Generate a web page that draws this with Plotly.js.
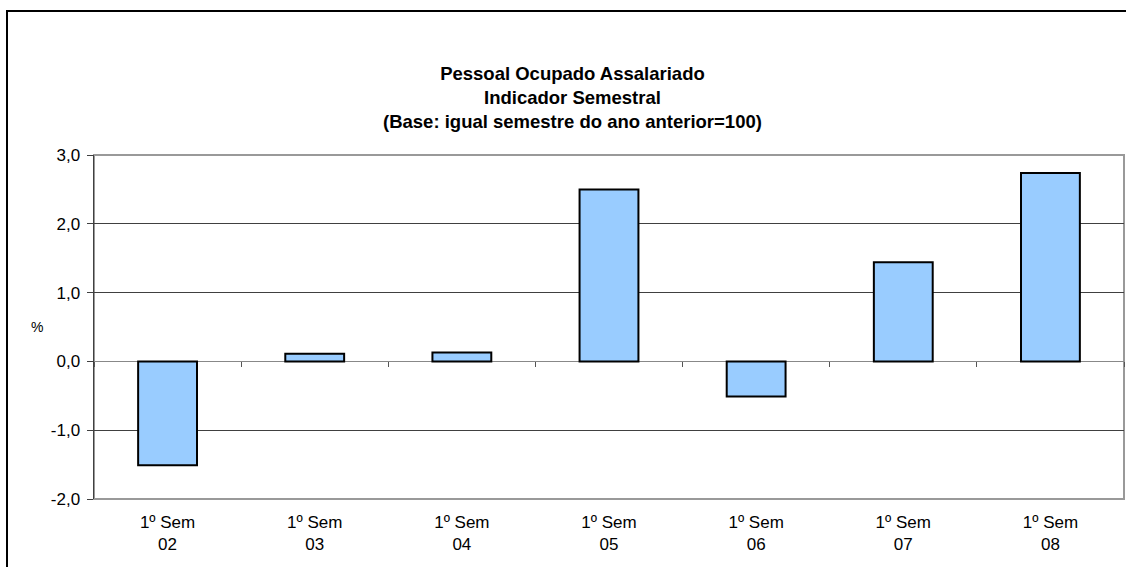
<!DOCTYPE html>
<html>
<head>
<meta charset="utf-8">
<script src="https://cdn.plot.ly/plotly-3.0.1.min.js"></script>
<style>html,body{margin:0;padding:0;background:#fff;}#chart{width:1126px;height:567px;}</style>
</head>
<body>
<div id="chart"></div>
<script>
const categories = ["1º Sem<br>02", "1º Sem<br>03", "1º Sem<br>04", "1º Sem<br>05", "1º Sem<br>06", "1º Sem<br>07", "1º Sem<br>08"];
const values = [-1.51, 0.11, 0.13, 2.50, -0.51, 1.44, 2.74];
const yTickVals = [-2, -1, 0, 1, 2, 3];
const yTickText = ["-2,0", "-1,0", "0,0", "1,0", "2,0", "3,0"];
const titleLines = ["Pessoal Ocupado Assalariado", "Indicador Semestral", "(Base: igual semestre do ano anterior=100)"];
const yAxisLabel = "%";
const yRange = [-2, 3];

const FONT = "Arial, 'Liberation Sans', sans-serif";

const traces = [
  {
    type: "bar",
    x: categories,
    y: values,
    width: 0.4,
    marker: { color: "#99CCFF", line: { color: "#000000", width: 2 } },
    hoverinfo: "x+y",
    xaxis: "x",
    yaxis: "y"
  },
  {
    type: "scatter",
    mode: "markers",
    x: categories,
    y: values,
    marker: { opacity: 0 },
    hoverinfo: "skip",
    showlegend: false,
    xaxis: "x2",
    yaxis: "y"
  }
];

const zeroPos = (0 - yRange[0]) / (yRange[1] - yRange[0]);

const layout = {
  width: 1126,
  height: 567,
  margin: { l: 94, r: 2, t: 155, b: 68, pad: 0 },
  paper_bgcolor: "#ffffff",
  plot_bgcolor: "#ffffff",
  showlegend: false,
  bargap: 0.6,
  font: { family: FONT, color: "#000000", size: 17 },
  title: {
    text: "<b>" + titleLines.join("<br>") + "</b>",
    font: { family: FONT, size: 18.5, color: "#000000" },
    x: 0.5084,
    xanchor: "center",
    xref: "container",
    y: 1 - 80 / 567,
    yanchor: "top",
    yref: "container"
  },
  xaxis: {
    type: "category",
    showgrid: false,
    zeroline: false,
    showline: false,
    ticks: "",
    tickfont: { family: FONT, size: 17, color: "#000000" },
    ticklabelstandoff: 11
  },
  xaxis2: {
    type: "category",
    overlaying: "x",
    matches: "x",
    anchor: "free",
    position: zeroPos,
    side: "bottom",
    showgrid: false,
    zeroline: false,
    showline: false,
    showticklabels: false,
    ticks: "outside",
    tickson: "boundaries",
    ticklen: 5,
    tickwidth: 1,
    tickcolor: "#555555"
  },
  yaxis: {
    range: yRange,
    tickmode: "array",
    tickvals: yTickVals,
    ticktext: yTickText,
    showgrid: true,
    gridcolor: "#404040",
    gridwidth: 1,
    zeroline: true,
    zerolinecolor: "#888888",
    zerolinewidth: 1.5,
    showline: true,
    linecolor: "#404040",
    linewidth: 1.5,
    ticks: "outside",
    ticklen: 6,
    tickcolor: "#404040",
    tickwidth: 1,
    ticklabelstandoff: 3,
    tickfont: { family: FONT, size: 17, color: "#000000" }
  },
  annotations: [
    {
      text: yAxisLabel, xref: "paper", yref: "paper",
      x: (37 - 94) / 1030, y: 0.5, xanchor: "center", yanchor: "middle",
      showarrow: false, font: { family: FONT, size: 14, color: "#000000" }
    }
  ],
  shapes: [
    {
      type: "rect", xref: "paper", yref: "paper", layer: "below",
      x0: 0, x1: 1, y0: 0, y1: 1,
      line: { color: "#999999", width: 2 }, fillcolor: "rgba(0,0,0,0)"
    },
    {
      type: "rect", xref: "paper", yref: "paper", layer: "below",
      x0: (7 - 94) / 1030, x1: 1.2, y0: -0.5, y1: (499 - 11) / 344,
      line: { color: "#000000", width: 2 }, fillcolor: "rgba(0,0,0,0)"
    }
  ]
};

Plotly.newPlot("chart", traces, layout, { displayModeBar: false, staticPlot: true });
</script>
</body>
</html>
